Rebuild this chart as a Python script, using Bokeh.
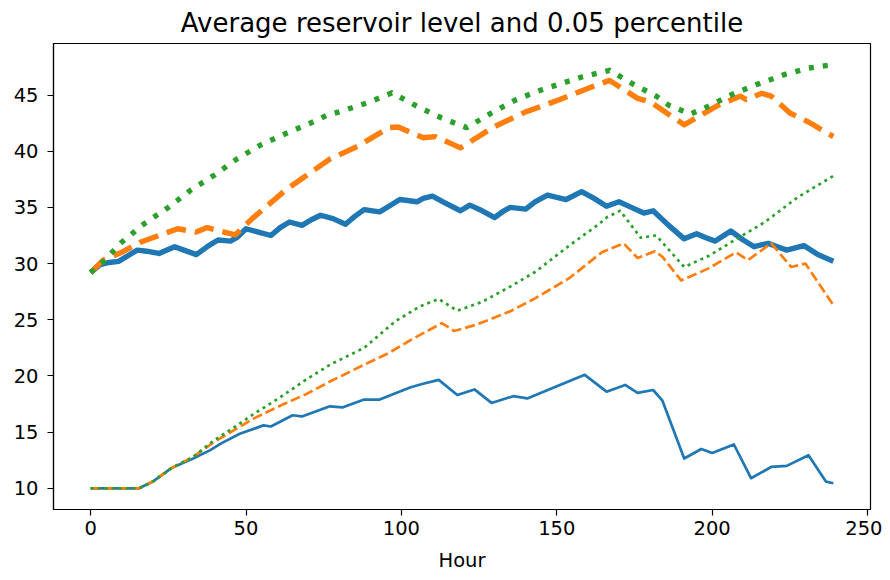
from bokeh.plotting import figure
from bokeh.models import Range1d, FixedTicker
from bokeh.embed import file_html
from bokeh.resources import INLINE

# ---- data ----
avg1_h = [0, 3, 6, 9, 12, 15, 18, 22, 27, 30, 34, 38, 41, 45, 47, 50, 54, 58, 61, 64, 68, 71, 74, 78,
          82, 85, 88, 93, 96, 99.5, 105, 107, 110, 114, 119, 122, 126, 130, 133, 135, 140, 143, 147,
          150, 153, 158, 162, 166, 170, 174, 178, 181, 186, 191, 195, 198, 201, 206, 210, 213.5, 218,
          221, 224, 229.5, 234, 239]
avg1_v = [29.2, 29.9, 30.1, 30.2, 30.7, 31.2, 31.1, 30.9, 31.5, 31.2, 30.8, 31.6, 32.1, 32.0, 32.3,
          33.1, 32.8, 32.5, 33.2, 33.7, 33.4, 33.9, 34.3, 34.0, 33.5, 34.2, 34.8, 34.6, 35.1, 35.7,
          35.5, 35.8, 36.0, 35.4, 34.7, 35.2, 34.7, 34.1, 34.7, 35.0, 34.85, 35.5, 36.1, 35.9, 35.7,
          36.4, 35.8, 35.1, 35.5, 35.0, 34.5, 34.7, 33.4, 32.2, 32.65, 32.3, 32.0, 32.9, 32.1, 31.5,
          31.8, 31.5, 31.2, 31.6, 30.8, 30.2]

avg2_h = [0, 4, 10, 16, 25, 28, 34, 37.5, 46.5, 52, 63, 77, 86, 96, 99, 107, 111, 119, 130, 140,
          151, 161, 167, 176, 180, 191, 202, 209, 211, 216, 219, 225, 231, 239]
avg2_v = [29.2, 30.3, 31.0, 31.9, 32.8, 33.1, 32.8, 33.2, 32.55, 34.0, 36.6, 39.3, 40.45, 42.1,
          42.15, 41.2, 41.3, 40.3, 42.2, 43.5, 44.6, 45.7, 46.3, 44.7, 44.4, 42.35, 44.1, 44.9,
          44.6, 45.15, 44.9, 43.4, 42.6, 41.3]

avg3_h = [0, 4, 10, 17, 25, 32, 40, 47, 55, 63, 72, 76, 80, 89, 97, 105, 113, 121, 129, 137, 145,
          150, 158, 167, 175, 182, 186, 193, 198, 206, 214, 223, 231, 239]
avg3_v = [29.2, 30.15, 31.9, 33.5, 35.0, 36.5, 37.9, 39.3, 40.6, 41.6, 42.65, 43.2, 43.5, 44.3,
          45.2, 44.0, 42.95, 42.1, 43.4, 44.6, 45.45, 45.9, 46.6, 47.2, 45.9, 44.9, 44.1, 43.3,
          43.9, 45.0, 45.9, 46.8, 47.4, 47.7]

pct1_h = [0, 15.6, 20, 26, 33, 38.5, 42, 48, 55.6, 58, 65, 68, 77, 81, 88, 93, 103, 107, 112, 118,
          123.5, 129, 136, 140.5, 151, 159, 166, 172, 176, 181, 184, 191, 196.5, 200, 207, 212.5,
          219, 224, 231, 236.6, 239]
pct1_v = [10.0, 10.0, 10.6, 11.8, 12.65, 13.4, 14.0, 14.85, 15.6, 15.5, 16.5, 16.4, 17.3, 17.2,
          17.9, 17.9, 19.0, 19.3, 19.65, 18.3, 18.8, 17.6, 18.2, 18.0, 19.2, 20.1, 18.6, 19.2, 18.5,
          18.75, 17.8, 12.65, 13.5, 13.15, 13.9, 10.9, 11.9, 12.0, 12.95, 10.6, 10.45]

pct2_h = [0, 15.6, 20, 26, 33, 39.6, 46, 52.4, 61, 69.5, 77, 88, 96, 103, 113, 117, 124, 135, 143,
          154, 164.5, 171.5, 176, 181.6, 184, 190, 198.7, 207.7, 211.5, 219, 225.4, 230, 239]
pct2_v = [10.0, 10.0, 10.6, 11.8, 12.8, 14.1, 15.15, 16.2, 17.35, 18.4, 19.5, 21.0, 22.05, 23.2,
          24.7, 24.0, 24.55, 25.75, 26.9, 28.7, 31.0, 31.8, 30.5, 31.1, 30.6, 28.5, 29.55, 31.0,
          30.3, 31.8, 29.7, 30.0, 26.3]

pct3_h = [0, 15.6, 20, 26, 33, 39.6, 46, 52.4, 61, 69.5, 77, 88, 98, 106, 112, 118, 126, 135, 143,
          154, 163.5, 166, 170.4, 177, 182, 191, 199, 207, 217, 227.5, 239]
pct3_v = [10.0, 10.0, 10.6, 11.8, 12.8, 14.25, 15.4, 16.6, 18.1, 19.7, 21.0, 22.5, 24.85, 26.2,
          26.85, 25.8, 26.6, 27.95, 29.25, 31.6, 33.5, 34.1, 34.7, 32.3, 32.5, 29.7, 30.7, 32.05,
          33.7, 35.9, 37.8]

x_ticks = [0, 50, 100, 150, 200, 250]
y_ticks = [10, 15, 20, 25, 30, 35, 40, 45]
title_text = "Average reservoir level and 0.05 percentile"
x_label = "Hour"

# ---- ranges like matplotlib's 5% margins ----
all_h = avg1_h + avg2_h + avg3_h + pct1_h + pct2_h + pct3_h
all_v = avg1_v + avg2_v + avg3_v + pct1_v + pct2_v + pct3_v
hx0, hx1 = min(all_h), max(all_h)
vy0, vy1 = min(all_v), max(all_v)
mx = (hx1 - hx0) * 0.05
my = (vy1 - vy0) * 0.05

FONT = "DejaVu Sans"
C0, C1, C2 = "#1f77b4", "#ff7f0e", "#2ca02c"

p = figure(width=882, height=576, output_backend="svg", toolbar_location=None,
           x_range=Range1d(hx0 - mx, hx1 + mx), y_range=Range1d(vy0 - my, vy1 + my),
           min_border_left=53, min_border_right=12, min_border_top=39, min_border_bottom=67,
           title=title_text)

p.title.text_font = FONT
p.title.text_font_size = "26px"
p.title.text_font_style = "normal"
p.title.align = "center"
p.title.text_color = "black"
p.title.standoff = 11

p.xgrid.visible = False
p.ygrid.visible = False
p.outline_line_color = "black"
p.outline_line_width = 1.2
p.background_fill_color = "white"
p.border_fill_color = "white"

for ax in (p.xaxis[0], p.yaxis[0]):
    ax.axis_line_color = "black"
    ax.axis_line_width = 1.2
    ax.major_tick_line_color = "black"
    ax.major_tick_line_width = 1.2
    ax.major_tick_out = 6
    ax.major_tick_in = 0
    ax.minor_tick_line_color = None
    ax.major_label_text_font = FONT
    ax.major_label_text_font_size = "19.5px"
    ax.major_label_text_color = "black"

p.xaxis.ticker = FixedTicker(ticks=x_ticks)
p.yaxis.ticker = FixedTicker(ticks=y_ticks)
p.xaxis.major_label_standoff = 5
p.yaxis.major_label_standoff = 9
p.xaxis.axis_label = x_label
p.xaxis.axis_label_text_font = FONT
p.xaxis.axis_label_text_font_size = "19.5px"
p.xaxis.axis_label_text_font_style = "normal"
p.xaxis.axis_label_text_color = "black"
p.xaxis.axis_label_standoff = 11

# averages (thick)
p.line(avg1_h, avg1_v, color=C0, line_width=5.4, line_join="round")
p.line(avg2_h, avg2_v, color=C1, line_width=5.4, line_join="round", line_dash="20 9")
p.line(avg3_h, avg3_v, color=C2, line_width=5.4, line_join="round", line_dash="5 9")
# percentiles (thin)
p.line(pct1_h, pct1_v, color=C0, line_width=2.7, line_join="round")
p.line(pct2_h, pct2_v, color=C1, line_width=2.7, line_join="round", line_dash="10 4")
p.line(pct3_h, pct3_v, color=C2, line_width=2.7, line_join="round", line_dash="3 4")

open("out.html", "w").write(file_html(p, INLINE))
